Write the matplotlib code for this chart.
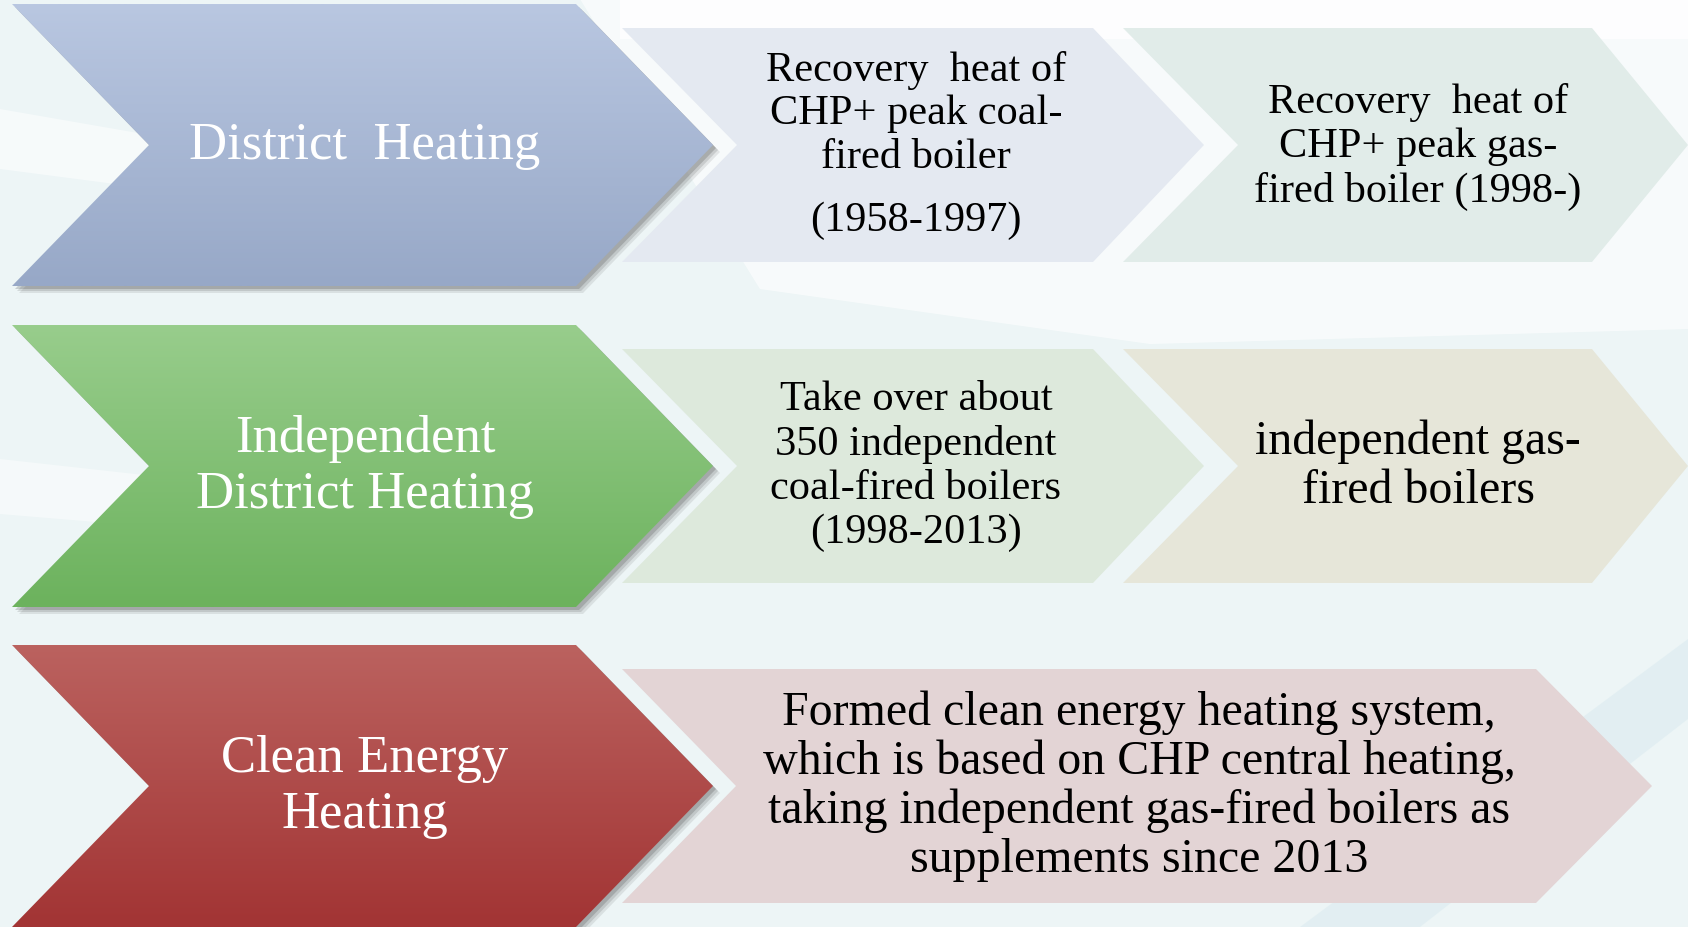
import numpy as np
import matplotlib.pyplot as plt
from matplotlib.patches import Polygon
from matplotlib.colors import to_rgb

# --- labels for each stage ---
stage_titles = [["District  Heating"], ["Independent", "District Heating"], ["Clean Energy", "Heating"]]
stage_top = ["#b9c7e1", "#98cd8c", "#bb625f"]
stage_bottom = ["#97a8c7", "#6cb25d", "#a23434"]

step1_lines = ["Recovery  heat of", "CHP+ peak coal-", "fired boiler", "(1958-1997)"]
step1_y = [71, 114, 158, 221]
step2_lines = ["Recovery  heat of", "CHP+ peak gas-", "fired boiler (1998-)"]
step3_lines = ["Take over about", "350 independent", "coal-fired boilers", "(1998-2013)"]
step4_lines = ["independent gas-", "fired boilers"]
step5_lines = ["Formed clean energy heating system,",
               "which is based on CHP central heating,",
               "taking independent gas-fired boilers as",
               "supplements since 2013"]

light_colors = {"s1": "#e4e9f1", "s2": "#e1ece9", "s3": "#dde9dc", "s4": "#e6e6d9", "s5": "#e3d4d5"}

W, H = 1688, 928
row_tops = [5, 326, 646]
big_h = 282
serif = ["Liberation Serif", "DejaVu Serif"]


def chevron(xl, xtr, xtip, xn, yt, yb):
    ym = (yt + yb) / 2
    return [(xl, yt), (xtr, yt), (xtip, ym), (xtr, yb), (xl, yb), (xn, ym)]


def gradient_fill(ax, pts, c_top, c_bot):
    xs = [p[0] for p in pts]
    ys = [p[1] for p in pts]
    t = np.linspace(0, 1, 256)[:, None]
    top = np.array(to_rgb(c_top))
    bot = np.array(to_rgb(c_bot))
    img = (top[None, :] * (1 - t) + bot[None, :] * t)[:, None, :]
    poly = Polygon(pts, closed=True, facecolor="none", edgecolor="none")
    ax.add_patch(poly)
    im = ax.imshow(img, extent=(min(xs), max(xs), max(ys), min(ys)), origin="upper",
                   aspect="auto", zorder=3, interpolation="bilinear")
    im.set_clip_path(poly)


fig = plt.figure(figsize=(W / 100, H / 100), dpi=100)
ax = fig.add_axes([0, 0, 1, 1])
ax.set_xlim(0, W)
ax.set_ylim(H, 0)
ax.axis("off")

# background with faint swooshes
ax.add_patch(Polygon([(0, 0), (W, 0), (W, H), (0, H)], facecolor="#edf5f6", edgecolor="none", zorder=0))
ax.add_patch(Polygon([(580, 0), (W, 0), (W, 330), (1150, 345), (760, 290)], facecolor="white",
                     edgecolor="none", alpha=0.6, zorder=0.5))
ax.add_patch(Polygon([(620, 0), (W, 0), (W, 40), (620, 40)], facecolor="white",
                     edgecolor="none", alpha=0.8, zorder=0.6))
ax.add_patch(Polygon([(0, 110), (230, 150), (230, 200), (0, 170)], facecolor="white",
                     edgecolor="none", alpha=0.5, zorder=0.5))
ax.add_patch(Polygon([(0, 460), (180, 480), (180, 530), (0, 515)], facecolor="white",
                     edgecolor="none", alpha=0.45, zorder=0.5))
ax.add_patch(Polygon([(1300, 928), (1688, 640), (1688, 720), (1420, 928)], facecolor="#d8e9ef",
                     edgecolor="none", alpha=0.5, zorder=0.5))

# big coloured chevrons with drop shadow
for i, yt in enumerate(row_tops):
    pts = chevron(12, 576, 713, 149, yt, yt + big_h)
    for k, a in enumerate([0.10, 0.14, 0.20]):
        off = 7 - 2 * k
        sh = [(x + off, y + off) for x, y in pts]
        ax.add_patch(Polygon(sh, facecolor="#303030", edgecolor="none", alpha=a, zorder=2))
    gradient_fill(ax, pts, stage_top[i], stage_bottom[i])
    ym = yt + big_h / 2
    lines = stage_titles[i]
    n = len(lines)
    for j, line in enumerate(lines):
        y = ym + (j - (n - 1) / 2) * 56
        ax.text(365, y, line, color="white", fontsize=38, family=serif,
                ha="center", va="center", zorder=5)

# light chevrons
inset = 24
r1 = (row_tops[0] + inset, row_tops[0] + big_h - inset)
r2 = (row_tops[1] + inset, row_tops[1] + big_h - inset)
r3 = (row_tops[2] + inset, row_tops[2] + big_h - inset)

shapes = [
    ("s1", chevron(622, 1093, 1204, 737, *r1)),
    ("s2", chevron(1123, 1592, 1688, 1238, *r1)),
    ("s3", chevron(622, 1093, 1204, 737, *r2)),
    ("s4", chevron(1123, 1592, 1688, 1238, *r2)),
    ("s5", chevron(622, 1536, 1652, 736, *r3)),
]
for key, pts in shapes:
    ax.add_patch(Polygon(pts, facecolor=light_colors[key], edgecolor="none", zorder=1.5))

txt = dict(color="black", family=serif, ha="center", va="center", zorder=5)
for line, y in zip(step1_lines, step1_y):
    ax.text(916, y, line, fontsize=30.5, **txt)
for j, line in enumerate(step2_lines):
    ax.text(1418, 103 + 44 * j, line, fontsize=30.5, **txt)
for j, line in enumerate(step3_lines):
    ax.text(916, 400 + 44.3 * j, line, fontsize=30.5, **txt)
for j, line in enumerate(step4_lines):
    ax.text(1418, 442 + 49 * j, line, fontsize=34.5, **txt)
for j, line in enumerate(step5_lines):
    ax.text(1139, 713 + 49 * j, line, fontsize=34.5, **txt)

fig.savefig("out.png", dpi=100)
